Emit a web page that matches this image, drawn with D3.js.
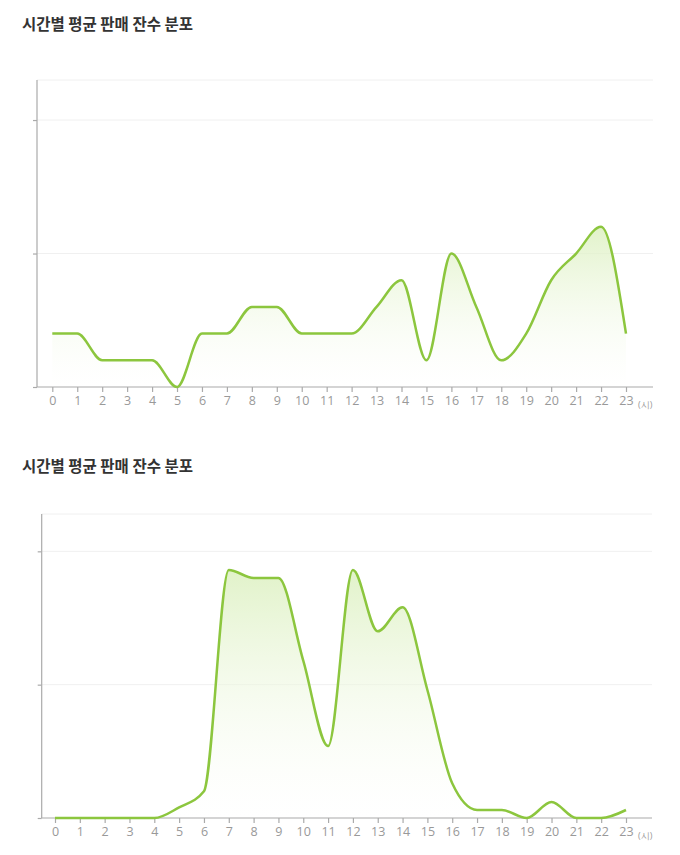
<!DOCTYPE html>
<html>
<head>
<meta charset="utf-8">
<script src="https://cdn.jsdelivr.net/npm/d3@7"></script>
<style>
  body { margin: 0; background: #fff; }
  .title { font-family: "Noto Sans CJK KR", sans-serif; font-weight: 700; font-size: 15.5px; fill: #333; }
  .axis text { font-family: "Open Sans", "DejaVu Sans", sans-serif; font-size: 12.5px; fill: #999; }
  .axis line { stroke: #aaa; stroke-width: 1.2; }
</style>
</head>
<body>
<svg id="chart" width="680" height="855"></svg>
<script>
// hours 0..23
const hours = d3.range(0, 24);
const hourLabels = hours.map(String);
const titleText = "시간별 평균 판매 잔수 분포";
const unitLabel = "(시)";

// chart 1 : values
const cupsA = [2, 2, 1, 1, 1, 0, 2, 2, 3, 3, 2, 2, 2, 3, 4, 1, 5, 3, 1, 2, 4, 5, 6, 2];
const gridA = [5, 10];
const maxA = 11.5;

// chart 2
const cupsB = [0, 0, 0, 0, 0, 4, 10, 93, 90, 90, 59, 27, 93, 70, 79, 48, 13, 3, 3, 0, 6, 0, 0, 3];
const gridB = [50, 100];
const maxB = 114;

const svg = d3.select("#chart");

const defs = svg.append("defs");
const grad = defs.append("linearGradient")
    .attr("id", "fillGrad")
    .attr("x1", 0).attr("y1", 0).attr("x2", 0).attr("y2", 1);
grad.append("stop").attr("offset", "0%").attr("stop-color", "#dcf0c0").attr("stop-opacity", 0.85);
grad.append("stop").attr("offset", "100%").attr("stop-color", "#ffffff").attr("stop-opacity", 0.2);

function HourChart(opt) {
    const gr = svg.append("g");

    gr.append("text")
        .attr("class", "title")
        .attr("x", 22)
        .attr("y", opt.titleY)
        .text(titleText);

    const xScale = d3.scaleLinear()
        .domain([0, 23])
        .range([opt.x0, opt.x23]);

    const yScale = d3.scaleLinear()
        .domain([0, opt.max])
        .range([opt.bottom, opt.top]);

    // grid lines
    gr.selectAll(".grid")
        .data(opt.grid.concat([opt.max]))
        .join("line")
        .attr("class", "grid")
        .attr("x1", opt.axisX)
        .attr("x2", opt.right)
        .attr("y1", d => yScale(d))
        .attr("y2", d => yScale(d))
        .attr("stroke", "#f0f0f0")
        .attr("stroke-width", 1);

    const data = hours.map((h, i) => ({hour: h, v: opt.values[i]}));

    const area = d3.area()
        .x(d => xScale(d.hour))
        .y0(yScale(0))
        .y1(d => yScale(d.v))
        .curve(d3.curveMonotoneX);

    const line = d3.line()
        .x(d => xScale(d.hour))
        .y(d => yScale(d.v))
        .curve(d3.curveMonotoneX);

    gr.append("path")
        .datum(data)
        .attr("d", area)
        .attr("fill", "url(#fillGrad)");

    // y axis
    const yAxis = d3.axisLeft(yScale)
        .tickValues([0].concat(opt.grid))
        .tickSize(4)
        .tickFormat("");
    const yAxGr = gr.append("g")
        .attr("class", "axis")
        .attr("transform", `translate(${opt.axisX},0)`)
        .call(yAxis);
    yAxGr.select(".domain").remove();
    yAxGr.append("line")
        .attr("x1", 0).attr("x2", 0)
        .attr("y1", opt.top).attr("y2", opt.bottom)
        .attr("stroke", "#b5b5b5").attr("stroke-width", 2);

    // x axis
    const xAxis = d3.axisBottom(xScale)
        .tickValues(hours)
        .tickSize(5)
        .tickPadding(4)
        .tickFormat((d, i) => hourLabels[i]);
    const xAxGr = gr.append("g")
        .attr("class", "axis")
        .attr("transform", `translate(0,${opt.bottom})`)
        .call(xAxis);
    xAxGr.select(".domain").remove();
    xAxGr.append("line")
        .attr("x1", opt.axisX).attr("x2", opt.right)
        .attr("y1", 0).attr("y2", 0)
        .attr("stroke", "#b5b5b5").attr("stroke-width", 1.5);
    xAxGr.append("text")
        .attr("x", opt.x23 + 12)
        .attr("y", 21)
        .style("font-size", "9px")
        .attr("text-anchor", "start")
        .text(unitLabel);

    gr.append("path")
        .datum(data)
        .attr("d", line)
        .attr("fill", "none")
        .attr("stroke", "#8cc63e")
        .attr("stroke-width", 2.5)
        .attr("stroke-linejoin", "round");
}

HourChart({values: cupsA, grid: gridA, max: maxA, titleY: 30,
    axisX: 37, x0: 52.3, x23: 626, right: 653, top: 80, bottom: 387});
HourChart({values: cupsB, grid: gridB, max: maxB, titleY: 472,
    axisX: 41.7, x0: 55, x23: 626, right: 652, top: 514, bottom: 818});
</script>
</body>
</html>
